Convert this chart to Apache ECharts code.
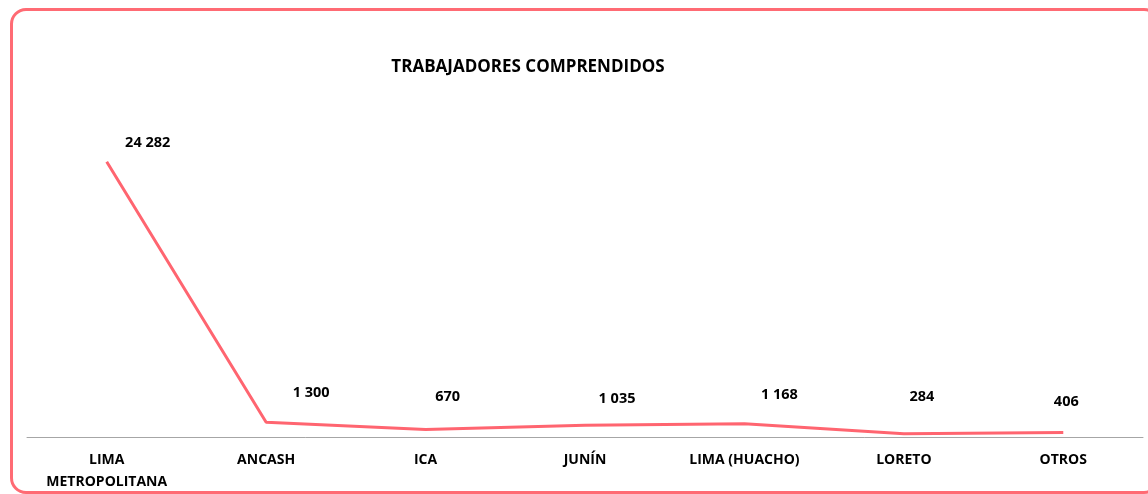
<!DOCTYPE html>
<html>
<head>
<meta charset="utf-8">
<script src="https://cdn.jsdelivr.net/npm/echarts@6/dist/echarts.min.js"></script>
<style>
html,body{margin:0;padding:0;background:#fff;overflow:hidden;}
#wrap{position:absolute;left:10px;top:8px;width:1150px;height:486px;border:3px solid #ff6b74;border-radius:16px;box-sizing:border-box;}
#chart{position:absolute;left:0;top:0;width:1148px;height:494px;}
</style>
</head>
<body>
<div id="wrap"></div>
<div id="chart"></div>
<script>
const categories = ['LIMA\nMETROPOLITANA', 'ANCASH', 'ICA', 'JUNÍN', 'LIMA (HUACHO)', 'LORETO', 'OTROS'];
const values = [24282, 1300, 670, 1035, 1168, 284, 406];
const labelOffsets = [[41, -19], [45, -29], [22, -33], [32, -26], [35, -29], [18, -37], [3, -31]];

const fontFamily = '"Open Sans", sans-serif';
const chart = echarts.init(document.getElementById('chart'));
chart.setOption({
  animation: false,
  title: {
    text: 'TRABAJADORES COMPRENDIDOS',
    left: 523, top: 54, textAlign: 'center',
    textStyle: {fontFamily, fontWeight: 'bold', fontSize: 17, color: '#000'}
  },
  grid: {left: 27, right: 5, top: 97, bottom: 57, containLabel: false},
  xAxis: {
    type: 'category',
    data: categories,
    boundaryGap: true,
    axisLine: {lineStyle: {color: '#a6a6a6', width: 1}},
    axisTick: {show: false},
    axisLabel: {fontFamily, fontWeight: 'bold', fontSize: 14, color: '#000', margin: 12, lineHeight: 22, interval: 0}
  },
  yAxis: {
    type: 'value', min: 0, max: 30000,
    show: false, splitLine: {show: false}
  },
  series: [{
    type: 'line',
    data: values.map((v, i) => ({value: v, label: {offset: labelOffsets[i]}})),
    symbol: 'circle', symbolSize: 1,
    itemStyle: {color: 'rgba(0,0,0,0)', borderWidth: 0},
    lineStyle: {color: '#ff6570', width: 3},
    label: {
      show: true, position: 'inside', align: 'center', verticalAlign: 'middle',
      fontFamily, fontWeight: 'bold', fontSize: 14.5, color: '#000',
      formatter: p => String(p.value).replace(/\B(?=(\d{3})+(?!\d))/g, ' ')
    }
  }]
});
</script>
</body>
</html>
